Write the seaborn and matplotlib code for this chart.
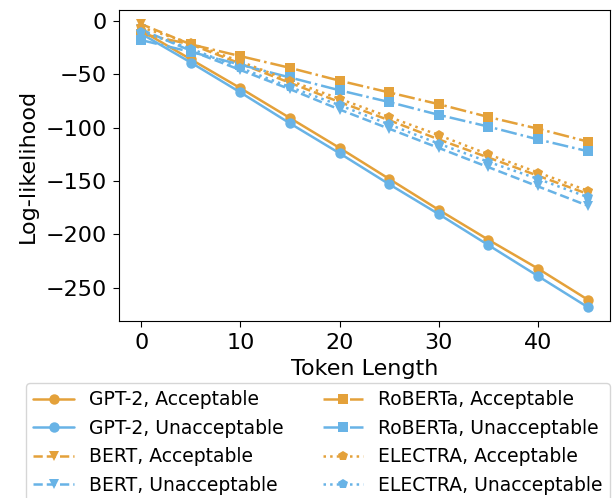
import numpy as np
import pandas as pd
import matplotlib
matplotlib.use("Agg")
import matplotlib.pyplot as plt
import seaborn as sns

# --- Data ---
token_length = [0, 5, 10, 15, 20, 25, 30, 35, 40, 45]

gpt2_acc = [-9, -36, -63, -91, -119, -148, -177, -205, -232, -261]
gpt2_unacc = [-12, -39, -67, -96, -124, -153, -181, -210, -239, -268]
bert_acc = [-3, -22, -40, -58, -76, -93, -111, -128, -145, -162]
bert_unacc = [-8, -28, -46, -64, -83, -101, -119, -137, -155, -173]
roberta_acc = [-12, -22, -33, -44, -56, -67, -78, -90, -101, -113]
roberta_unacc = [-18, -29, -41, -53, -65, -76, -88, -99, -111, -122]
electra_acc = [-6, -21, -38, -56, -73, -90, -107, -125, -142, -159]
electra_unacc = [-10, -26, -44, -62, -79, -97, -115, -132, -148, -165]

ORANGE = "#E4A13A"
BLUE = "#68B3E6"

# (label, values, color, linestyle, marker)
series = [
    ("GPT-2, Acceptable", gpt2_acc, ORANGE, "-", "o"),
    ("GPT-2, Unacceptable", gpt2_unacc, BLUE, "-", "o"),
    ("BERT, Acceptable", bert_acc, ORANGE, "--", "v"),
    ("BERT, Unacceptable", bert_unacc, BLUE, "--", "v"),
    ("RoBERTa, Acceptable", roberta_acc, ORANGE, "-.", "s"),
    ("RoBERTa, Unacceptable", roberta_unacc, BLUE, "-.", "s"),
    ("ELECTRA, Acceptable", electra_acc, ORANGE, ":", "p"),
    ("ELECTRA, Unacceptable", electra_unacc, BLUE, ":", "p"),
]

sns.set_style("ticks", {"axes.edgecolor": "black", "text.color": "black",
                        "xtick.color": "black", "ytick.color": "black",
                        "axes.labelcolor": "black"})
plt.rcParams["font.family"] = ["DejaVu Sans"]

fig = plt.figure(figsize=(6.13, 4.98), dpi=100)
ax = fig.add_axes([0.194, 0.355, 0.801, 0.625])

for label, values, color, ls, marker in series:
    df = pd.DataFrame({"x": token_length, "y": values})
    sns.lineplot(data=df, x="x", y="y", ax=ax, color=color, linestyle=ls,
                 marker=marker, markersize=7.5, markeredgewidth=0,
                 linewidth=1.8, label=label, legend=False)

ax.set_xticks([0, 10, 20, 30, 40])
ax.set_yticks([0, -50, -100, -150, -200, -250])
ax.tick_params(labelsize=16, length=4.5, pad=4)
ax.set_xlabel("Token Length", fontsize=16, labelpad=4)
ax.set_ylabel("Log-likelihood", fontsize=16, labelpad=6)
for side in ["top", "right"]:
    ax.spines[side].set_visible(True)

handles, labels = ax.get_legend_handles_labels()
fig.legend(handles, labels, loc="upper left", bbox_to_anchor=(0.027, 0.25),
           ncol=2, fontsize=13.5, frameon=True, handlelength=2.15,
           columnspacing=2.1, labelspacing=0.5)

plt.savefig("out.png", dpi=100)
